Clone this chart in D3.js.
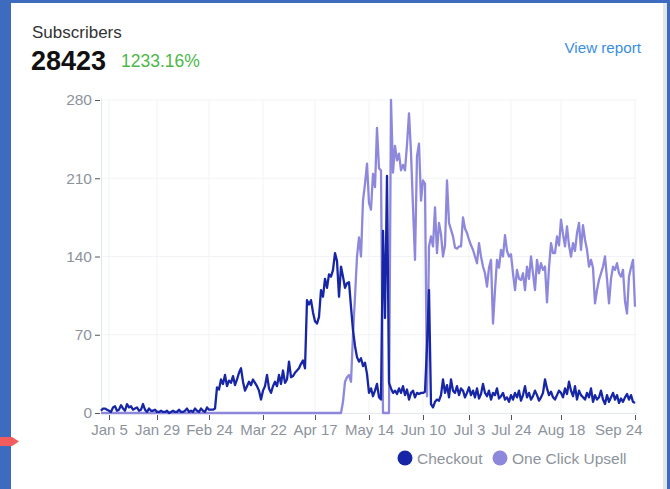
<!DOCTYPE html>
<html>
<head>
<meta charset="utf-8">
<script src="https://cdn.jsdelivr.net/npm/d3@7"></script>
<style>
  html, body { margin: 0; padding: 0; background: #3d6bbd; }
  svg { display: block; font-family: "Liberation Sans", Arial, sans-serif; }
</style>
</head>
<body>
<svg id="chart" width="670" height="489"></svg>
<script>
// daily values, starting Jan 1
const startDate = "2020-01-01";

const checkout = [
  2,4,4,3,2,1,5,6,2,3,
  7,4,2,8,5,6,3,4,5,2,
  3,8,3,1,4,2,2,3,1,1,
  2,1,1,2,0,1,2,1,1,3,
  1,1,2,4,1,2,1,4,2,1,
  4,2,1,5,3,3,3,4,23,21,
  30,26,34,24,29,27,33,25,30,36,
  40,28,20,24,28,25,30,27,24,20,
  12,20,24,34,22,18,24,28,24,34,
  26,38,27,30,46,32,33,36,38,40,
  44,47,40,101,97,101,90,82,80,86,
  110,104,120,112,124,122,128,143,136,104,
  131,122,112,116,117,95,74,60,50,46,
  49,42,45,35,18,22,15,20,26,14,
  12,163,85,212,27,22,18,20,17,22,
  18,24,16,21,12,18,20,14,18,17,
  18,18,19,60,110,8,5,10,12,11,
  16,30,18,25,14,30,20,18,24,16,
  22,20,14,18,23,16,20,14,22,13,
  17,26,18,15,20,12,18,16,22,13,
  15,18,12,14,10,16,12,18,14,20,
  11,16,24,14,18,12,15,20,16,11,
  14,18,30,22,16,19,14,12,16,20,
  18,14,22,17,28,20,15,24,12,20,
  16,14,12,18,14,22,10,16,12,14,
  20,12,8,16,10,14,18,12,16,9,
  13,10,14,17,12,16,10,9
];

const oneClickUpsell = [
  0,0,0,0,0,0,0,0,0,0,0,0,0,0,0,0,0,0,0,0,
  0,0,0,0,0,0,0,0,0,0,0,0,0,0,0,0,0,0,0,0,
  0,0,0,0,0,0,0,0,0,0,0,0,0,0,0,0,0,0,0,0,
  0,0,0,0,0,0,0,0,0,0,0,0,0,0,0,0,0,0,0,0,
  0,0,0,0,0,0,0,0,0,0,0,0,0,0,0,0,0,0,0,0,
  0,0,0,0,0,0,0,0,0,0,0,0,0,0,0,0,0,0,0,0,
  0,10,28,32,34,28,70,104,140,157,
  140,190,205,223,188,182,214,202,255,219,
  217,0,0,0,0,280,215,239,226,232,
  217,222,217,240,268,233,184,137,230,241,
  190,208,205,15,149,158,149,184,143,170,
  160,140,150,208,170,164,158,148,147,149,
  149,175,165,161,155,150,146,140,134,152,
  140,131,125,113,130,137,80,110,137,130,
  146,140,159,145,140,142,125,110,128,120,
  119,125,110,131,120,140,125,110,137,125,
  134,128,131,99,130,152,143,143,158,150,
  173,160,149,167,150,140,152,145,161,170,
  146,168,155,146,131,137,130,98,110,119,
  125,131,140,120,98,120,131,128,134,125,
  122,128,100,89,122,130,137,95
];

const xTickDates = ["2020-01-05","2020-01-29","2020-02-24","2020-03-22","2020-04-17",
  "2020-05-14","2020-06-10","2020-07-03","2020-07-24","2020-08-18","2020-09-24"];
const yTicks = [0, 70, 140, 210, 280];
const seriesNames = ["Checkout", "One Click Upsell"];
const seriesColors = ["#1726a6", "#8e88dc"];

const parse = d3.timeParse("%Y-%m-%d");
const start = parse(startDate);
const toPoints = arr => arr.map((v, i) => ({date: d3.timeDay.offset(start, i), value: v}));

const svg = d3.select("#chart");

// card
svg.append("rect").attr("x", 11).attr("y", 3).attr("width", 656).attr("height", 490)
  .attr("fill", "#e4e5e8");
svg.append("rect").attr("x", 11).attr("y", 3).attr("width", 652).attr("height", 490)
  .attr("fill", "#ffffff");

// red marker on the left edge
svg.append("path").attr("d", "M0,437 L12,437 L19,441.5 L12,446 L0,446 Z").attr("fill", "#f25c5c");

// header
svg.append("text").attr("x", 32).attr("y", 38).attr("font-size", 17).attr("fill", "#333")
  .text("Subscribers");
svg.append("text").attr("x", 31).attr("y", 70).attr("font-size", 27).attr("font-weight", "bold")
  .attr("fill", "#111").text("28423");
svg.append("text").attr("x", 121).attr("y", 67).attr("font-size", 17.5).attr("fill", "#4cb848")
  .text("1233.16%");
svg.append("text").attr("x", 641).attr("y", 53).attr("font-size", 15.2).attr("fill", "#3a8ee0")
  .attr("text-anchor", "end").text("View report");

// scales
const x = d3.scaleTime()
  .domain([start, d3.timeDay.offset(start, 267)])
  .range([101, 635]);
const y = d3.scaleLinear().domain([0, 280]).range([413, 100]);

const xTicks = xTickDates.map(parse);

// grid
const grid = svg.append("g");
grid.selectAll(".vg").data(xTicks).enter().append("line")
  .attr("x1", d => x(d)).attr("x2", d => x(d)).attr("y1", 100).attr("y2", 413)
  .attr("stroke", "#f1f3f6").attr("stroke-width", 1);
grid.selectAll(".hg").data(yTicks.slice(1)).enter().append("line")
  .attr("x1", 101).attr("x2", 637).attr("y1", d => y(d)).attr("y2", d => y(d))
  .attr("stroke", "#f1f3f6").attr("stroke-width", 1);
grid.append("line").attr("x1", 101.5).attr("x2", 101.5).attr("y1", 98).attr("y2", 413)
  .attr("stroke", "#e3e8f0");
grid.append("line").attr("x1", 101).attr("x2", 637).attr("y1", 413.5).attr("y2", 413.5)
  .attr("stroke", "#e3e8f0");

// y axis
const yAxis = svg.append("g").attr("transform", "translate(100,0)")
  .call(d3.axisLeft(y).tickValues(yTicks).tickSize(5).tickPadding(3));
yAxis.select(".domain").remove();
yAxis.selectAll("line").attr("stroke", "#555");
yAxis.selectAll("text").attr("fill", "#8d939c").attr("font-size", 15.5)
  .attr("font-family", "Liberation Sans, Arial, sans-serif");

// x axis
const fmt = d3.timeFormat("%b %-d");
const xAxis = svg.append("g").attr("transform", "translate(0,415)")
  .call(d3.axisBottom(x).tickValues(xTicks).tickFormat(fmt).tickSize(5).tickPadding(4));
xAxis.select(".domain").remove();
xAxis.selectAll("line").attr("stroke", "#555");
xAxis.selectAll("text").attr("fill", "#8d939c").attr("font-size", 15)
  .attr("font-family", "Liberation Sans, Arial, sans-serif");
xAxis.selectAll(".tick").filter((d, i) => i === xTicks.length - 1).select("text")
  .attr("text-anchor", "end").attr("dx", 7);

// lines
const line = d3.line().x(d => x(d.date)).y(d => y(d.value));
svg.append("path").datum(toPoints(oneClickUpsell))
  .attr("fill", "none").attr("stroke", seriesColors[1]).attr("stroke-width", 2.3)
  .attr("stroke-linejoin", "round").attr("d", line);
svg.append("path").datum(toPoints(checkout))
  .attr("fill", "none").attr("stroke", seriesColors[0]).attr("stroke-width", 2.3)
  .attr("stroke-linejoin", "round").attr("d", line);

// legend
const legendX = [405, 500];
const legend = svg.append("g").selectAll("g").data(seriesNames).enter().append("g")
  .attr("transform", (d, i) => `translate(${legendX[i]},458)`);
legend.append("circle").attr("r", 7.5).attr("fill", (d, i) => seriesColors[i]);
legend.append("text").attr("x", 12).attr("y", 5.5).attr("font-size", 15.5)
  .attr("fill", "#8d939c").text(d => d);
</script>
</body>
</html>
